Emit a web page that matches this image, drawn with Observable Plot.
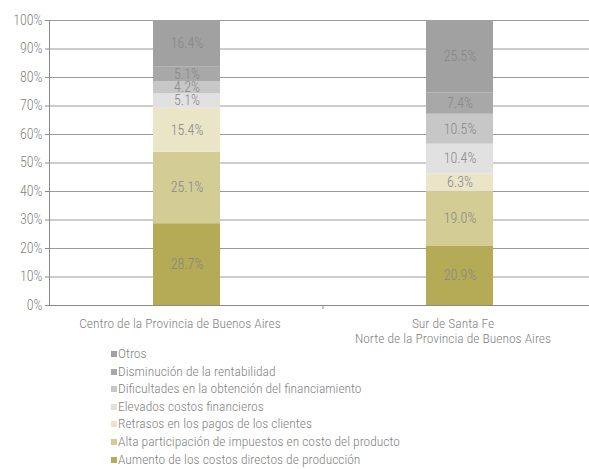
<!DOCTYPE html>
<html>
<head>
<meta charset="utf-8">
<script src="https://cdn.jsdelivr.net/npm/d3@7"></script>
<script src="https://cdn.jsdelivr.net/npm/@observablehq/plot@0.6"></script>
<style>
  body { margin: 0; background: #fff; font-family: "Roboto Condensed", sans-serif; font-weight: 300; }
  #chart { position: relative; width: 589px; height: 469px; overflow: hidden; }
  #legend { position: absolute; left: 111px; top: 345px; font-size: 13.5px; color: #7f7f7f; line-height: 17.6px; }
  #legend div { white-space: nowrap; }
  #legend span.sw { display: inline-block; width: 6px; height: 6px; margin-right: 1px; vertical-align: 1px; }
</style>
</head>
<body>
<div id="chart"></div>
<script>
const regions = ["Centro de la Provincia de Buenos Aires", "Sur de Santa Fe\nNorte de la Provincia de Buenos Aires"];
const categories = [
  "Aumento de los costos directos de producción",
  "Alta participación de impuestos en costo del producto",
  "Retrasos en los pagos de los clientes",
  "Elevados costos financieros",
  "Dificultades en la obtención del financiamiento",
  "Disminución de la rentabilidad",
  "Otros"
];
const centroValues = [28.7, 25.1, 15.4, 5.1, 4.2, 5.1, 16.4];
const surValues = [20.9, 19.0, 6.3, 10.4, 10.5, 7.4, 25.5];
const colors = ["#b5aa55", "#d3cc95", "#e9e5c6", "#e1e1e1", "#c7c7c7", "#a8a8a8", "#a1a1a1"];
const yTicks = [0, 10, 20, 30, 40, 50, 60, 70, 80, 90, 100];

const data = [];
categories.forEach((c, i) => {
  data.push({region: regions[0], cat: c, v: centroValues[i]});
  data.push({region: regions[1], cat: c, v: surValues[i]});
});

// small tick between the two category bands, positioned from the scales
function bandDivider(index, scales) {
  const x = scales.x(regions[1]);
  const y = scales.y(0);
  const g = d3.create("svg:g");
  g.append("line").attr("x1", x).attr("x2", x).attr("y1", y).attr("y2", y + 4).attr("stroke", "#8a8a8a");
  return g.node();
}

const font = '"Roboto Condensed", sans-serif';
const plot = Plot.plot({
  width: 589,
  height: 345,
  marginTop: 20,
  marginLeft: 49,
  marginRight: -7,
  marginBottom: 40,
  style: {fontFamily: font, fontSize: "13.5px", fontWeight: 300, color: "#7f7f7f", background: "#fff"},
  x: {domain: regions, padding: 0, label: null},
  y: {domain: [0, 100], label: null},
  color: {domain: categories, range: colors},
  marks: [
    Plot.ruleY(yTicks, {stroke: "#9a9a9a", strokeWidth: 1}),
    Plot.barY(data, Plot.stackY({x: "region", y: "v", fill: "cat", inset: 0, insetLeft: 103, insetRight: 103})),
    Plot.text(data, Plot.stackY({x: "region", y: "v", z: "cat", text: d => d.v.toFixed(1) + "%", fill: "#878787", fontSize: 14})),
    Plot.ruleY([0], {stroke: "#8a8a8a"}),
    Plot.axisY({ticks: yTicks, tickFormat: d => d + "%", tickSize: 4, tickPadding: 3, stroke: "#8a8a8a", fill: "#7f7f7f", fontSize: 14, label: null}),
    Plot.axisX({tickSize: 0, tickPadding: 11, dx: -7, fill: "#7f7f7f", fontSize: 13.5, label: null, lineHeight: 1.15}),
    Plot.frame({anchor: "left", stroke: "#8a8a8a"}),
    bandDivider
  ]
});
document.getElementById("chart").appendChild(plot);

const legend = document.createElement("div");
legend.id = "legend";
categories.slice().reverse().forEach((c, k) => {
  const i = categories.length - 1 - k;
  const row = document.createElement("div");
  const sw = document.createElement("span");
  sw.className = "sw";
  sw.style.background = colors[i];
  row.appendChild(sw);
  row.appendChild(document.createTextNode(c));
  legend.appendChild(row);
});
document.getElementById("chart").appendChild(legend);
</script>
</body>
</html>
